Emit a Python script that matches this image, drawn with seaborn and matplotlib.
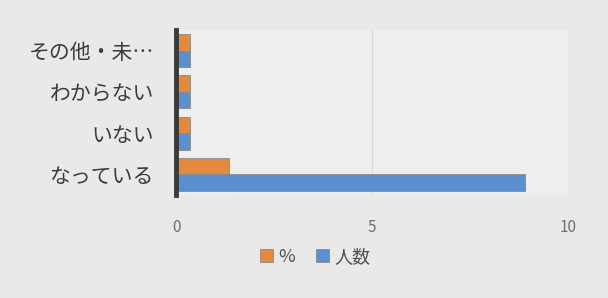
import matplotlib
matplotlib.use("Agg")
import matplotlib.pyplot as plt
import seaborn as sns
import pandas as pd

categories = ["その他・未…", "わからない", "いない", "なっている"]
series_names = ["%", "人数"]
pct_values = [0.35, 0.35, 0.35, 1.35]
count_values = [0.35, 0.35, 0.35, 8.9]
x_ticks = [0, 5, 10]

df = pd.DataFrame({
    "category": categories * 2,
    "series": [series_names[0]] * len(categories) + [series_names[1]] * len(categories),
    "value": pct_values + count_values,
})

sns.set_theme(style="white")
plt.rcParams["font.family"] = ["Noto Sans CJK JP", "DejaVu Sans"]

fig = plt.figure(figsize=(6.08, 2.98), dpi=100, facecolor="#e9e9e9")
ax = fig.add_axes([0.2895, 0.346, 0.645, 0.553])
ax.set_facecolor("#eeeeee")

palette = {"%": "#e5893e", "人数": "#5b90d0"}
sns.barplot(data=df, y="category", x="value", hue="series",
            order=categories, hue_order=series_names, palette=palette,
            orient="h", width=0.8, ax=ax, edgecolor="#8a8a8a", linewidth=0.6,
            saturation=1)

ax.set_xlim(0, 10)
ax.set_xticks(x_ticks)
ax.set_xlabel("")
ax.set_ylabel("")
ax.xaxis.grid(True, color="#d8d8d8", linewidth=0.8)
ax.set_axisbelow(True)
for s in ["top", "right", "bottom"]:
    ax.spines[s].set_visible(False)
ax.spines["left"].set_color("#3a3a3a")
ax.spines["left"].set_linewidth(3.5)

ax.tick_params(axis="y", labelsize=15, colors="#3c3c3c", length=0, pad=16)
ax.tick_params(axis="x", labelsize=11, colors="#707070", length=0, pad=17)

leg = ax.legend(loc="center", bbox_to_anchor=(0.355, -0.375), ncol=2,
                frameon=False, fontsize=13, handlelength=0.7, handleheight=0.7,
                columnspacing=1.2, handletextpad=0.3)
for t in leg.get_texts():
    t.set_color("#505050")

fig.savefig("out.png", dpi=100, facecolor=fig.get_facecolor())
